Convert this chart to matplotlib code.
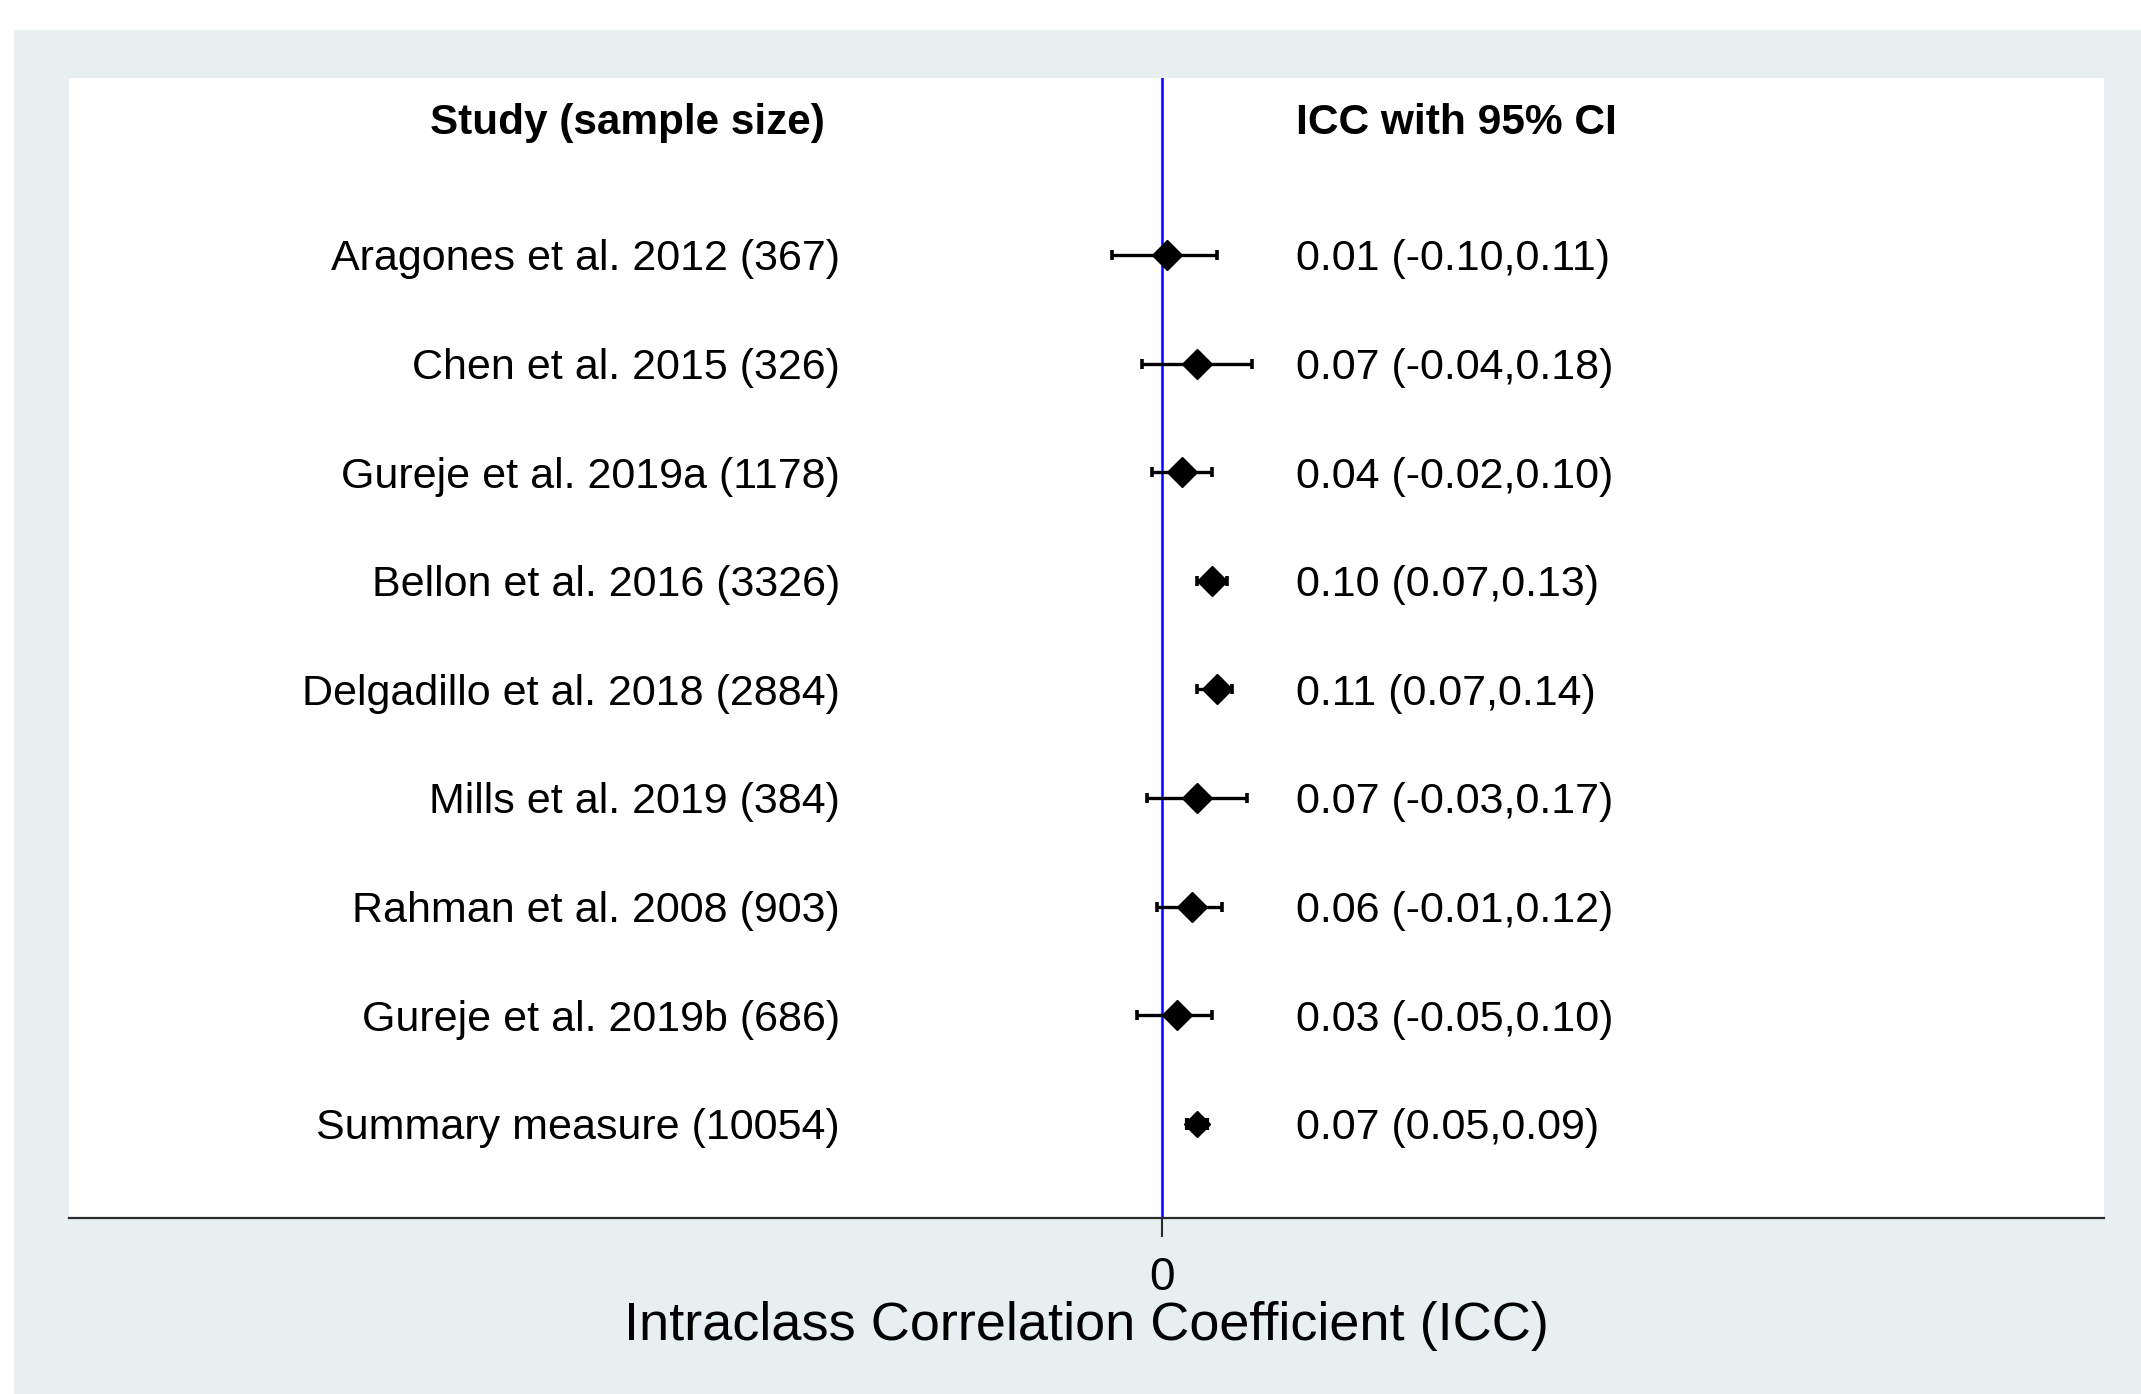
import matplotlib
matplotlib.use("Agg")
import matplotlib.pyplot as plt
from matplotlib.patches import Rectangle
import numpy as np

plt.rcParams['font.family'] = ['Liberation Sans', 'DejaVu Sans']

# study rows, top to bottom
studies = ["Aragones et al. 2012", "Chen et al. 2015", "Gureje et al. 2019a",
           "Bellon et al. 2016", "Delgadillo et al. 2018", "Mills et al. 2019",
           "Rahman et al. 2008", "Gureje et al. 2019b", "Summary measure"]
sample_size = [367, 326, 1178, 3326, 2884, 384, 903, 686, 10054]
icc = np.array([0.01, 0.07, 0.04, 0.10, 0.11, 0.07, 0.06, 0.03, 0.07])
ci_low = np.array([-0.10, -0.04, -0.02, 0.07, 0.07, -0.03, -0.01, -0.05, 0.05])
ci_high = np.array([0.11, 0.18, 0.10, 0.13, 0.14, 0.17, 0.12, 0.10, 0.09])

W, H = 2141, 1394
fig = plt.figure(figsize=(W / 100, H / 100), dpi=100)
fig.patch.set_facecolor('white')

# light graph region behind the white plot region
fig.add_artist(Rectangle((14 / W, 0), 1, 1 - 30 / H, transform=fig.transFigure,
                         facecolor='#e8eff1', edgecolor='none', zorder=-1))

ax = fig.add_axes([69 / W, 1 - 1218 / H, (2104 - 69) / W, (1218 - 78) / H])
ax.set_facecolor('white')

rows = np.arange(1, len(studies) + 1)
header_y = -0.22
text_dy = 0.04

ax.axvline(0, color='#0000ff', lw=1.8, zorder=1)

ax.errorbar(icc[:-1], rows[:-1], xerr=[icc[:-1] - ci_low[:-1], ci_high[:-1] - icc[:-1]],
            fmt='D', color='black', ms=15, elinewidth=2.4, capsize=3.6, capthick=2.6,
            zorder=3)
# pooled estimate
ax.errorbar(icc[-1:], rows[-1:], xerr=[icc[-1:] - ci_low[-1:], ci_high[-1:] - icc[-1:]],
            fmt='D', color='black', ms=13.5, elinewidth=2.4, capsize=4.5, capthick=3,
            zorder=3)

# text columns
left_x = -0.644
right_x = 0.268
for r, name, n, est, lo, hi in zip(rows, studies, sample_size, icc, ci_low, ci_high):
    ax.text(left_x, r + text_dy, f"{name} ({n})", ha='right', va='center', fontsize=31)
    ax.text(right_x, r + text_dy, f"{est:.2f} ({lo:.2f},{hi:.2f})", ha='left',
            va='center', fontsize=31)

ax.text(-0.674, header_y, "Study (sample size)", ha='right', va='center',
        fontsize=30.4, fontweight='bold')
ax.text(right_x, header_y, "ICC with 95% CI", ha='left', va='center',
        fontsize=30.6, fontweight='bold')

ax.set_xlim(-2.186, 1.884)
ax.set_ylim(9.867, -0.630)

for side in ['top', 'right', 'left']:
    ax.spines[side].set_visible(False)
ax.spines['bottom'].set_linewidth(1.6)
ax.spines['bottom'].set_color('#2b2b2b')

ax.set_yticks([])
ax.set_xticks([0])
ax.set_xticklabels(['0'])
ax.tick_params(axis='x', length=14, width=1.5, color='#2b2b2b', labelsize=33, pad=13)
ax.set_xlabel('Intraclass Correlation Coefficient (ICC)', fontsize=39, labelpad=1)

fig.savefig('out.png', dpi=100, facecolor=fig.get_facecolor())
